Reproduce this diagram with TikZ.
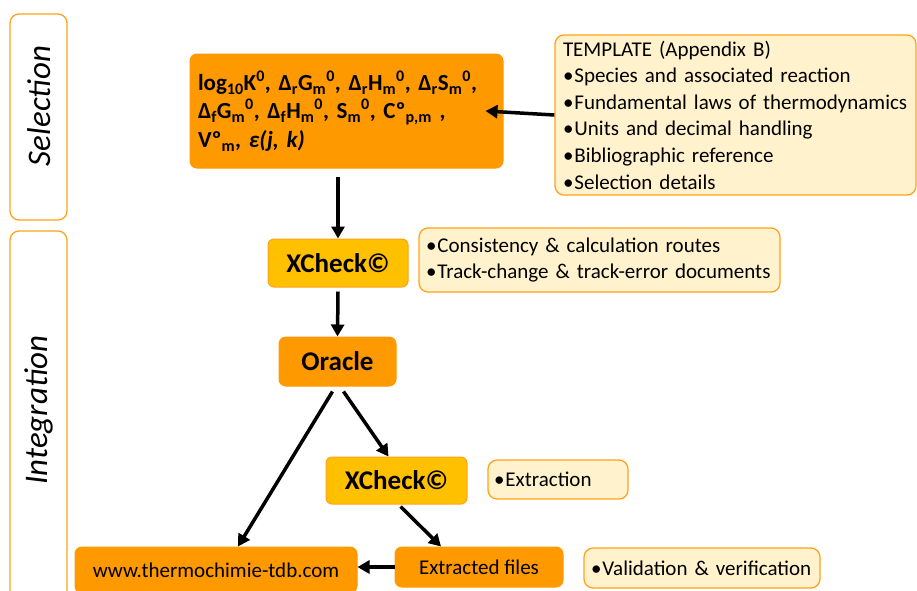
\documentclass[tikz,border=0pt]{standalone}
\usepackage{fontspec}
\setmainfont{Carlito}
\usetikzlibrary{arrows.meta}
\definecolor{dorange}{HTML}{FF9900}
\definecolor{gold}{HTML}{FFC000}
\definecolor{light}{HTML}{FFF2CC}
\definecolor{bord}{HTML}{FFA31A}
\newcommand{\bul}{•\hspace{1pt}}
\begin{document}
\begin{tikzpicture}[x=1pt,y=-1pt,
  obox/.style={rounded corners=7pt, fill=dorange, draw=dorange, line width=1pt, inner sep=0pt},
  gbox/.style={rounded corners=6pt, fill=gold, draw=bord, line width=1pt, inner sep=0pt},
  nbox/.style={rounded corners=9pt, fill=light, draw=bord, line width=1.3pt, inner sep=0pt},
  lbox/.style={rounded corners=9pt, fill=white, draw=bord, line width=1.3pt},
  conn/.style={line width=3.5pt, -{Triangle[width=13pt,length=12pt]}},
  vlabel/.style={rotate=90, font=\fontsize{33}{35}\selectfont\itshape}
]
\useasboundingbox (0,0) rectangle (917,590);
% phase labels
\draw[lbox] (10,14) rectangle (67,220);
\draw[lbox] (10,231) rectangle (67,610);
\node[vlabel] (sel) at (39,106) {Selection};
\node[vlabel] (integ) at (39,410) {Integration};
% main box
\node[obox, minimum width=313pt, minimum height=114pt, text width=297pt, align=left,
  font=\fontsize{23}{28.5}\selectfont\bfseries] (main) at (346.5,111)
 {log\textsubscript{10}K\textsuperscript{0}, Δ\textsubscript{r}G\textsubscript{m}\textsuperscript{0}, Δ\textsubscript{r}H\textsubscript{m}\textsuperscript{0}, Δ\textsubscript{r}S\textsubscript{m}\textsuperscript{0},\\
  Δ\textsubscript{f}G\textsubscript{m}\textsuperscript{0}, Δ\textsubscript{f}H\textsubscript{m}\textsuperscript{0}, S\textsubscript{m}\textsuperscript{0}, Cº\textsubscript{p,m} ,\\
  Vº\textsubscript{m}, \textit{ε(j, k)}};
% template
\node[nbox, minimum width=361pt, minimum height=160pt, text width=345pt, align=left,
  font=\fontsize{21}{26.6}\selectfont] (tmpl) at (735.5,115)
 {TEMPLATE (Appendix B)\\
  \bul Species and associated reaction\\
  \bul Fundamental laws of thermodynamics\\
  \bul Units and decimal handling\\
  \bul Bibliographic reference\\
  \bul Selection details};
% xcheck 1
\node[gbox, minimum width=140pt, minimum height=48pt, font=\fontsize{27}{29}\selectfont\bfseries] (xc1) at (338,263) {XCheck©};
\node[nbox, minimum width=361pt, minimum height=64pt, text width=347pt, align=left,
  font=\fontsize{21}{25.5}\selectfont] (n1) at (599.5,260)
 {\bul Consistency \& calculation routes\\
  \bul Track-change \& track-error documents};
% oracle
\node[obox, minimum width=117pt, minimum height=49pt, font=\fontsize{27}{29}\selectfont\bfseries] (orc) at (337.5,361.5) {Oracle};
% xcheck 2
\node[gbox, minimum width=141pt, minimum height=47pt, font=\fontsize{27}{29}\selectfont\bfseries] (xc2) at (396.5,480.5) {XCheck©};
\node[nbox, minimum width=140pt, minimum height=39pt, text width=128pt, align=left,
  font=\fontsize{21}{24}\selectfont] (n2) at (558,479.5) {\bul Extraction};
% bottom
\node[obox, minimum width=282pt, minimum height=46pt, font=\fontsize{21}{24}\selectfont] (www) at (216,570) {www.thermochimie-tdb.com};
\node[obox, minimum width=168pt, minimum height=40pt, font=\fontsize{21}{24}\selectfont] (ext) at (479,567) {Extracted files};
\node[nbox, minimum width=236pt, minimum height=40pt, text width=222pt, align=left,
  font=\fontsize{21}{24}\selectfont] (n3) at (702,568) {\bul Validation \& verification};
% connectors
\draw[conn] (tmpl.west) -- ([xshift=-18pt]main.east);
\draw[conn] ([yshift=-8pt]main.south -| xc1.north) -- (xc1.north);
\draw[conn] ([yshift=-4pt]xc1.south) -- (orc.north);
\draw[conn] ([xshift=-5pt,yshift=-5pt]orc.south) -- ([xshift=22pt]www.north);
\draw[conn] ([xshift=6pt,yshift=-5pt]orc.south) -- ([xshift=-8pt]xc2.north);
\draw[conn] ([xshift=4pt,yshift=-2pt]xc2.south) -- ([xshift=-38pt]ext.north);
\draw[conn] (ext.west) -- (ext.west -| www.east);
\end{tikzpicture}
\end{document}
